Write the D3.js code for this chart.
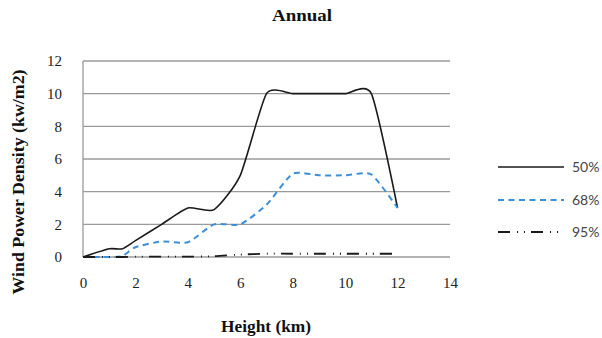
<!DOCTYPE html>
<html><head><meta charset="utf-8">
<script src="https://cdn.jsdelivr.net/npm/d3@7"></script>
<style>body{margin:0;background:#fff}svg{display:block}</style>
</head><body>
<svg id="c" width="602" height="338"></svg>
<script>
const heights = [0, 1, 1.5, 2, 3, 4, 5, 6, 7, 8, 9, 10, 11, 12];
const p50 = [0, 0.5, 0.5, 1.0, 2.0, 3.0, 2.9, 5.0, 10.0, 10.0, 10.0, 10.0, 10.0, 3.0];
const p68 = [0, 0, 0.05, 0.6, 0.95, 0.9, 2.0, 2.0, 3.2, 5.1, 5.0, 5.0, 5.05, 3.0];
const p95 = [0, 0, 0, 0.02, 0.02, 0.02, 0.05, 0.15, 0.2, 0.2, 0.2, 0.2, 0.2, 0.2];
const seriesNames = ["50%", "68%", "95%"];
const xTicks = [0, 2, 4, 6, 8, 10, 12, 14];
const yTicks = [0, 2, 4, 6, 8, 10, 12];

const SERIF = "'Liberation Serif'";
const svg = d3.select("#c");
const x = d3.scaleLinear().domain([0, 14]).range([83, 450]);
const y = d3.scaleLinear().domain([0, 12]).range([257, 61]);

// gridlines
svg.append("g").selectAll("line").data(yTicks).join("line")
  .attr("x1", x(0)).attr("x2", x(14))
  .attr("y1", d => y(d)).attr("y2", d => y(d))
  .attr("stroke", "#9a9a9a").attr("stroke-width", 1.3);
svg.append("line").attr("x1", x(0)).attr("x2", x(0)).attr("y1", y(12)).attr("y2", y(0))
  .attr("stroke", "#9a9a9a").attr("stroke-width", 1.3);

// axes labels
const yAxis = d3.axisLeft(y).tickValues(yTicks).tickSize(0).tickPadding(21);
const gy = svg.append("g").attr("transform", `translate(${x(0)},0)`).call(yAxis);
gy.select(".domain").remove();
gy.selectAll("text").style("font-family", SERIF).style("font-size", "15px").attr("fill", "#222");

const xAxis = d3.axisBottom(x).tickValues(xTicks).tickSize(0).tickPadding(20);
const gx = svg.append("g").attr("transform", `translate(0,${y(0)})`).call(xAxis);
gx.select(".domain").remove();
gx.selectAll("text").style("font-family", SERIF).style("font-size", "15px").attr("fill", "#222");

// lines
const styles = [
  {vals: p50, color: "#1a1a1a", width: 1.6, dash: null},
  {vals: p68, color: "#3b8fd9", width: 2, dash: "6,4.5"},
  {vals: p95, color: "#1a1a1a", width: 1.8, dash: "12,7,1,6,1,6"}
];
const line = d3.line().x(d => x(d[0])).y(d => y(d[1])).curve(d3.curveCardinal.tension(0.4));
styles.forEach(s => {
  svg.append("path").datum(heights.map((h, i) => [h, s.vals[i]]))
    .attr("d", line).attr("fill", "none")
    .attr("stroke", s.color).attr("stroke-width", s.width)
    .attr("stroke-dasharray", s.dash);
});

// legend
const legY = [167, 200, 232];
seriesNames.forEach((n, i) => {
  const s = styles[i];
  svg.append("line").attr("x1", 498).attr("x2", 564).attr("y1", legY[i]).attr("y2", legY[i])
    .attr("stroke", s.color).attr("stroke-width", s.width).attr("stroke-dasharray", s.dash);
  svg.append("text").attr("x", 572).attr("y", legY[i] + 5).text(n)
    .style("font-family", "Lato").style("font-size", "14px").attr("fill", "#444");
});

// titles
svg.append("text").attr("x", 302).attr("y", 21).attr("text-anchor", "middle")
  .style("font-family", SERIF).style("font-weight", "bold").style("font-size", "17px")
  .attr("textLength", 60).attr("lengthAdjust", "spacingAndGlyphs")
  .attr("fill", "#111").text("Annual");
svg.append("text").attr("x", 266).attr("y", 332).attr("text-anchor", "middle")
  .style("font-family", SERIF).style("font-weight", "bold").style("font-size", "16px")
  .attr("textLength", 90).attr("lengthAdjust", "spacingAndGlyphs")
  .attr("fill", "#111").text("Height (km)");
svg.append("text").attr("transform", "translate(24,182) rotate(-90)").attr("text-anchor", "middle")
  .style("font-family", SERIF).style("font-weight", "bold").style("font-size", "16px")
  .attr("textLength", 225).attr("lengthAdjust", "spacingAndGlyphs")
  .attr("fill", "#111").text("Wind Power Density (kw/m2)");
</script>
</body></html>
